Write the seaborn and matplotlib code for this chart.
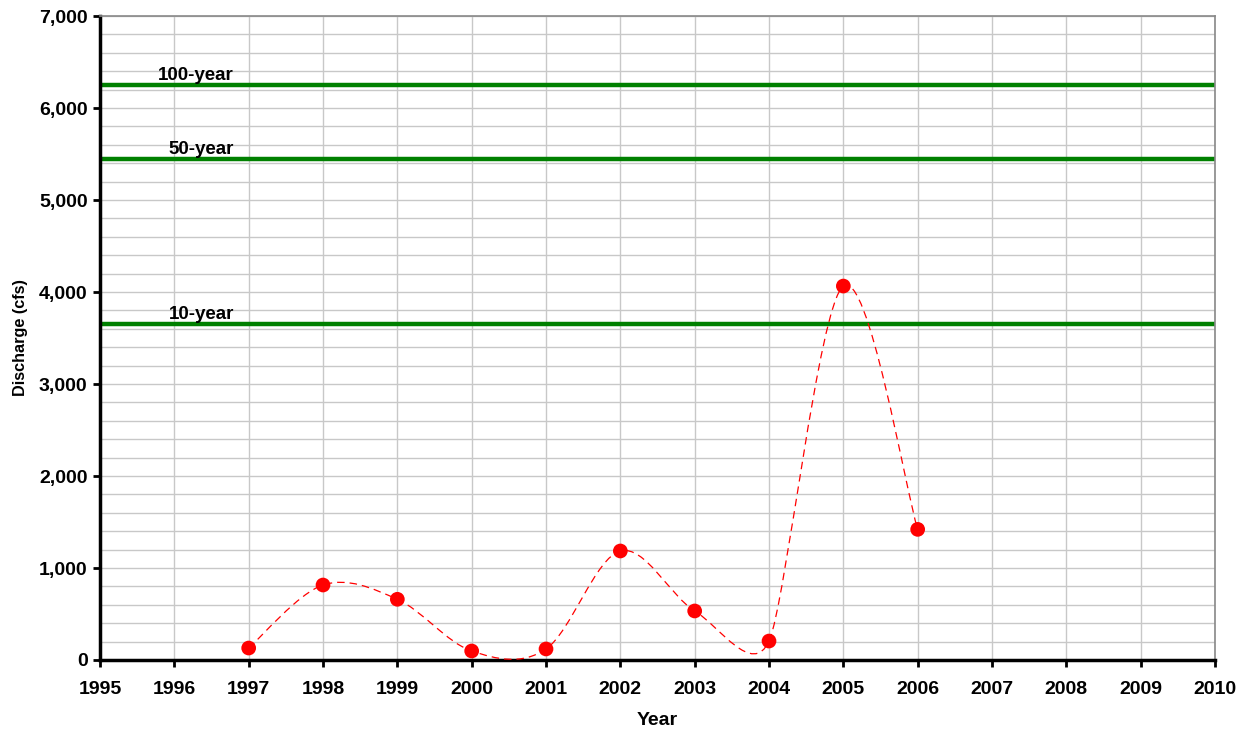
import numpy as np
import pandas as pd
import matplotlib
matplotlib.use("Agg")
import matplotlib.pyplot as plt
import seaborn as sns
from matplotlib.path import Path
from matplotlib.patches import PathPatch
from matplotlib.ticker import MultipleLocator, FuncFormatter

years = [1997, 1998, 1999, 2000, 2001, 2002, 2003, 2004, 2005, 2006]
discharge = [130, 815, 660, 98, 120, 1185, 533, 206, 4065, 1420]
flood_labels = ["100-year", "50-year", "10-year"]
flood_levels = [6250, 5450, 3650]

sns.set_theme(style="white")
plt.rcParams['font.family'] = ['Liberation Sans', 'DejaVu Sans']
plt.rcParams['font.weight'] = 'bold'
for k in ['text.color', 'axes.labelcolor', 'xtick.color', 'ytick.color']:
    plt.rcParams[k] = 'black'

fig = plt.figure(figsize=(12.44, 7.30), dpi=100)
ax = fig.add_axes([0.0804, 0.0959, 0.8963, 0.8821])
ax.set_xlim(1995, 2010)
ax.set_ylim(0, 7000)

df = pd.DataFrame({"Year": years, "Discharge": discharge})

# Smoothed dashed line (Excel-style Bezier smoothing, computed in display space)
P = ax.transData.transform(np.column_stack([years, discharge]).astype(float))
n = len(P)
tangents = []
for i in range(n):
    p0 = P[max(i - 1, 0)]
    p1 = P[i]
    p2 = P[min(i + 1, n - 1)]
    t = (p2 - p0) / 6.0
    tl = np.hypot(*t)
    d01 = np.hypot(*(p1 - p0))
    d12 = np.hypot(*(p2 - p1))
    lim = [d / 2.0 for d in (d01, d12) if d > 0]
    if tl > 0 and lim and min(lim) < tl:
        t = t * (min(lim) / tl)
    tangents.append(t)
disp_verts = [P[0]]
codes = [Path.MOVETO]
for i in range(n - 1):
    disp_verts += [P[i] + tangents[i], P[i + 1] - tangents[i + 1], P[i + 1]]
    codes += [Path.CURVE4] * 3
data_verts = ax.transData.inverted().transform(np.array(disp_verts))
patch = PathPatch(Path(data_verts, codes), facecolor="none", edgecolor="#ff0000",
                  lw=0.9, ls=(0, (6, 4)), zorder=3)
ax.add_patch(patch)

sns.scatterplot(data=df, x="Year", y="Discharge", ax=ax, color="#ff0000",
                s=112, edgecolor="none", zorder=4, legend=False)

for lab, lev in zip(flood_labels, flood_levels):
    ax.axhline(lev, color="#008000", lw=3.2, zorder=2)
    ax.text(1996.8, lev + 10, lab, ha="right", va="bottom", fontsize=13.5,
            fontweight="bold", color="black")

ax.set_xlim(1995, 2010)
ax.set_ylim(0, 7000)
ax.xaxis.set_major_locator(MultipleLocator(1))
ax.yaxis.set_major_locator(MultipleLocator(1000))
ax.yaxis.set_minor_locator(MultipleLocator(200))
ax.yaxis.set_major_formatter(FuncFormatter(lambda v, p: f"{int(v):,}"))
ax.xaxis.set_major_formatter(FuncFormatter(lambda v, p: f"{int(v)}"))

ax.grid(True, which="major", axis="x", color="#c8c8c8", lw=1, zorder=0)
ax.grid(True, which="both", axis="y", color="#c8c8c8", lw=1, zorder=0)
ax.set_axisbelow(True)

ax.tick_params(axis="both", which="major", direction="out", length=5, width=2,
               color="black", labelsize=14, left=True, bottom=True)
ax.tick_params(axis="x", which="major", pad=10)
ax.tick_params(axis="y", which="major", pad=4)
ax.tick_params(axis="y", which="minor", length=0)
for lbl in ax.get_xticklabels() + ax.get_yticklabels():
    lbl.set_fontweight("bold")

for side in ["left", "bottom"]:
    ax.spines[side].set_color("black")
    ax.spines[side].set_linewidth(2.5)
for side in ["top", "right"]:
    ax.spines[side].set_color("#888888")
    ax.spines[side].set_linewidth(1.2)

ax.set_xlabel("Year", fontsize=14, fontweight="bold", labelpad=10)
ax.set_ylabel("Discharge (cfs)", fontsize=11.7, fontweight="bold", labelpad=8)

fig.savefig("out.png", dpi=100)
